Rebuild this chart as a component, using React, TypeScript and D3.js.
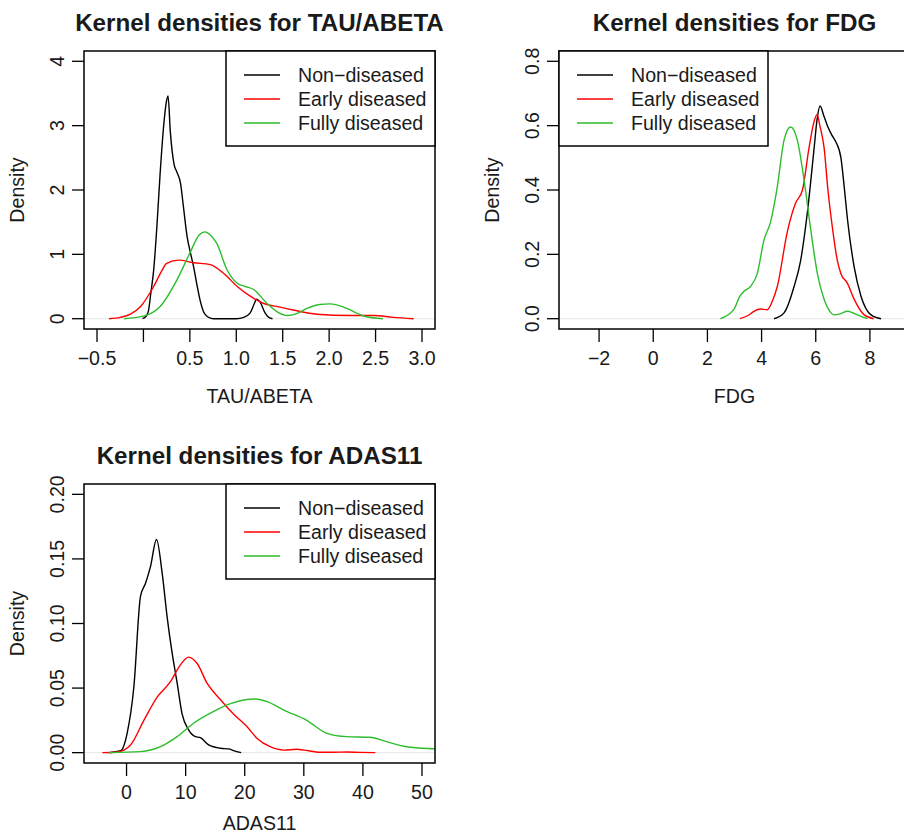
import React from 'react';
import * as d3 from 'd3';

type Pt = [number, number];

// series names and colours (R default palette: black, red, green3)
const seriesNames = ['Non\u2212diseased', 'Early diseased', 'Fully diseased'];
const seriesColors = ['#000000', '#ff0000', '#2dbd2d'];

// TAU/ABETA densities
const tauNon: Pt[] = [[-0.01, 0], [0.03, 0.04], [0.055, 0.13], [0.08, 0.4], [0.11, 0.75], [0.147, 1.48], [0.18, 2.26], [0.22, 3.03], [0.245, 3.35], [0.265, 3.46], [0.29, 2.9], [0.33, 2.4], [0.36, 2.28], [0.4, 2.1], [0.43, 1.75], [0.47, 1.28], [0.51, 1.0], [0.54, 0.81], [0.58, 0.5], [0.61, 0.29], [0.65, 0.1], [0.69, 0.03], [0.75, 0.0], [1.0, 0], [1.08, 0.02], [1.15, 0.09], [1.19, 0.22], [1.22, 0.305], [1.26, 0.25], [1.31, 0.09], [1.35, 0.02], [1.39, 0]];
const tauEarly: Pt[] = [[-0.37, 0], [-0.25, 0.02], [-0.14, 0.07], [-0.03, 0.19], [0.11, 0.5], [0.2, 0.75], [0.25, 0.86], [0.38, 0.91], [0.54, 0.87], [0.72, 0.84], [0.86, 0.71], [1.01, 0.5], [1.15, 0.35], [1.29, 0.24], [1.47, 0.18], [1.6, 0.14], [1.87, 0.07], [2.22, 0.05], [2.48, 0.05], [2.69, 0.02], [2.91, 0]];
const tauFully: Pt[] = [[-0.21, 0], [0.0, 0.04], [0.18, 0.19], [0.36, 0.6], [0.5, 1.02], [0.6, 1.3], [0.665, 1.35], [0.72, 1.3], [0.79, 1.17], [0.9, 0.76], [1.01, 0.55], [1.1, 0.5], [1.19, 0.45], [1.33, 0.24], [1.45, 0.1], [1.55, 0.05], [1.65, 0.08], [1.76, 0.16], [1.9, 0.22], [2.01, 0.23], [2.12, 0.2], [2.22, 0.14], [2.32, 0.07], [2.4, 0.03], [2.58, 0]];

// FDG densities
const fdgNon: Pt[] = [[4.46, 0], [4.83, 0.018], [5.2, 0.1], [5.44, 0.18], [5.69, 0.33], [5.94, 0.53], [6.05, 0.62], [6.16, 0.661], [6.3, 0.63], [6.43, 0.6], [6.6, 0.57], [6.74, 0.55], [6.93, 0.5], [7.05, 0.41], [7.17, 0.31], [7.42, 0.16], [7.67, 0.07], [8.04, 0.012], [8.41, 0]];
const fdgEarly: Pt[] = [[3.2, 0], [3.5, 0.01], [3.72, 0.023], [3.96, 0.03], [4.21, 0.028], [4.4, 0.055], [4.58, 0.1], [4.95, 0.27], [5.26, 0.36], [5.51, 0.4], [5.75, 0.53], [5.93, 0.61], [6.05, 0.635], [6.15, 0.6], [6.31, 0.53], [6.45, 0.4], [6.62, 0.28], [6.8, 0.18], [6.93, 0.14], [7.17, 0.11], [7.42, 0.06], [7.79, 0.012], [8.14, 0]];
const fdgFully: Pt[] = [[2.48, 0], [2.97, 0.028], [3.2, 0.07], [3.35, 0.085], [3.59, 0.1], [3.84, 0.14], [4.09, 0.245], [4.33, 0.3], [4.58, 0.41], [4.83, 0.555], [5.07, 0.596], [5.32, 0.555], [5.57, 0.43], [5.81, 0.28], [6.06, 0.14], [6.31, 0.06], [6.5, 0.025], [6.68, 0.012], [6.9, 0.015], [7.17, 0.023], [7.4, 0.017], [7.54, 0.012], [7.91, 0]];

// ADAS11 densities
const adasNon: Pt[] = [[-3, 0], [-1, 0.0015], [0.1, 0.015], [1.24, 0.051], [2.36, 0.121], [3.2, 0.131], [4.05, 0.144], [5.07, 0.165], [6.03, 0.139], [6.87, 0.105], [7.72, 0.077], [8.56, 0.054], [9.4, 0.03], [10.5, 0.0176], [11.66, 0.0124], [12.5, 0.0116], [13.9, 0.006], [15.9, 0.0034], [17.3, 0.0029], [18.1, 0.0016], [19.4, 0]];
const adasEarly: Pt[] = [[-4.1, 0], [-1.6, 0.0005], [0.68, 0.006], [2.93, 0.025], [5.18, 0.043], [7.43, 0.055], [9.12, 0.068], [10.5, 0.074], [11.95, 0.069], [13.6, 0.054], [15.9, 0.041], [18.1, 0.03], [20.4, 0.02], [22.1, 0.011], [24.3, 0.0046], [26.6, 0.002], [28.8, 0.0026], [30, 0.002], [32.8, 0.0003], [35, 0.0003], [37.3, 0.0005], [39.5, 0.0002], [42.1, 0]];
const adasFully: Pt[] = [[-3, 0], [2.36, 0.0008], [5.74, 0.0046], [8.56, 0.0124], [11.4, 0.023], [14.75, 0.032], [17.6, 0.038], [19.8, 0.0408], [21.8, 0.0416], [23.8, 0.0395], [26.6, 0.033], [30.5, 0.025], [33.9, 0.015], [37.3, 0.0124], [41.2, 0.0119], [44, 0.0085], [47.4, 0.0046], [51.9, 0.003], [55, 0.0025]];

// axis ticks and labels
const tauXTicks = [-0.5, 0, 0.5, 1.0, 1.5, 2.0, 2.5, 3.0];
const tauXLabels = ['\u22120.5', '', '0.5', '1.0', '1.5', '2.0', '2.5', '3.0'];
const tauYTicks = [0, 1, 2, 3, 4];
const tauYLabels = ['0', '1', '2', '3', '4'];
const fdgXTicks = [-2, 0, 2, 4, 6, 8];
const fdgXLabels = ['\u22122', '0', '2', '4', '6', '8'];
const fdgYTicks = [0, 0.2, 0.4, 0.6, 0.8];
const fdgYLabels = ['0.0', '0.2', '0.4', '0.6', '0.8'];
const adasXTicks = [0, 10, 20, 30, 40, 50];
const adasXLabels = ['0', '10', '20', '30', '40', '50'];
const adasYTicks = [0, 0.05, 0.1, 0.15, 0.2];
const adasYLabels = ['0.00', '0.05', '0.10', '0.15', '0.20'];

const FONT = '"Liberation Sans", Arial, Helvetica, sans-serif';
const TXT = '#1a1a1a';

interface PanelProps {
  id: string;
  title: string;
  xTitle: string;
  box: { left: number; right: number; top: number; bottom: number };
  xlim: [number, number];
  ylim: [number, number];
  series: Pt[][];
  xTicks: number[];
  xLabels: string[];
  yTicks: number[];
  yLabels: string[];
  legendSide: 'left' | 'right';
  xTitleOffset: number;
}

const Panel = (p: PanelProps) => {
  const { box } = p;
  // R style 4% range extension
  const ext = (l: [number, number]) => {
    const d = (l[1] - l[0]) * 0.04;
    return [l[0] - d, l[1] + d];
  };
  const x = d3.scaleLinear().domain(ext(p.xlim)).range([box.left, box.right]);
  const y = d3.scaleLinear().domain(ext(p.ylim)).range([box.bottom, box.top]);
  const line = d3
    .line<Pt>()
    .x((d) => x(d[0]))
    .y((d) => y(d[1]))
    .curve(d3.curveMonotoneX);

  const legW = 209;
  const legH = 95;
  const legX = p.legendSide === 'right' ? box.right - legW : box.left;
  const legY = box.top;
  const cx = (box.left + box.right) / 2;
  const cy = (box.top + box.bottom) / 2;

  return (
    <g>
      <defs>
        <clipPath id={`clip-${p.id}`}>
          <rect x={box.left} y={box.top} width={box.right - box.left} height={box.bottom - box.top} />
        </clipPath>
      </defs>
      <text x={cx} y={box.top - 20} textAnchor="middle" fontFamily={FONT} fontWeight="bold" fontSize={24.2} fill={TXT}>
        {p.title}
      </text>
      {/* zero line */}
      <line x1={box.left} x2={box.right} y1={y(0)} y2={y(0)} stroke="#e6e6e6" strokeWidth={1} />
      <g clipPath={`url(#clip-${p.id})`}>
        {p.series.map((s, i) => (
          <path key={i} d={line(s) || ''} fill="none" stroke={seriesColors[i]} strokeWidth={1.4} />
        ))}
      </g>
      <rect x={box.left} y={box.top} width={box.right - box.left} height={box.bottom - box.top} fill="none" stroke="#000" strokeWidth={1.5} />
      {/* x axis */}
      {p.xTicks.map((t, i) => (
        <g key={`x${i}`}>
          <line x1={x(t)} x2={x(t)} y1={box.bottom} y2={box.bottom + 13} stroke="#000" strokeWidth={1.3} />
          <text x={x(t)} y={box.bottom + 36} textAnchor="middle" fontFamily={FONT} fontSize={19.6} fill={TXT}>
            {p.xLabels[i]}
          </text>
        </g>
      ))}
      {/* y axis */}
      {p.yTicks.map((t, i) => (
        <g key={`y${i}`}>
          <line x1={box.left - 12} x2={box.left} y1={y(t)} y2={y(t)} stroke="#000" strokeWidth={1.3} />
          <text
            transform={`translate(${box.left - 20},${y(t)}) rotate(-90)`}
            textAnchor="middle"
            fontFamily={FONT}
            fontSize={19.6}
            fill={TXT}
          >
            {p.yLabels[i]}
          </text>
        </g>
      ))}
      <text x={cx} y={box.bottom + p.xTitleOffset + 7} textAnchor="middle" fontFamily={FONT} fontSize={19.6} fill={TXT}>
        {p.xTitle}
      </text>
      <text transform={`translate(${box.left - 60},${cy}) rotate(-90)`} textAnchor="middle" fontFamily={FONT} fontSize={19.6} fill={TXT}>
        Density
      </text>
      {/* legend */}
      <rect x={legX} y={legY} width={legW} height={legH} fill="#fff" stroke="#000" strokeWidth={1.5} />
      {seriesNames.map((n, i) => (
        <g key={n}>
          <line x1={legX + 18} x2={legX + 54} y1={legY + 24 + i * 24} y2={legY + 24 + i * 24} stroke={seriesColors[i]} strokeWidth={1.4} />
          <text x={legX + 72} y={legY + 31 + i * 24} fontFamily={FONT} fontSize={19.6} fill={TXT}>
            {n}
          </text>
        </g>
      ))}
    </g>
  );
};

export default function App() {
  return (
    <svg width={904} height={833} style={{ display: 'block', position: 'absolute', left: 0, top: 0, background: '#fff' }}>
      <rect x={0} y={0} width={904} height={833} fill="#fff" />
      <Panel
        id="tau"
        title="Kernel densities for TAU/ABETA"
        xTitle="TAU/ABETA"
        box={{ left: 84, right: 435, top: 51, bottom: 329 }}
        xlim={[-0.5, 3.0]}
        ylim={[0, 4]}
        series={[tauNon, tauEarly, tauFully]}
        xTicks={tauXTicks}
        xLabels={tauXLabels}
        yTicks={tauYTicks}
        yLabels={tauYLabels}
        legendSide="right"
        xTitleOffset={67}
      />
      <Panel
        id="fdg"
        title="Kernel densities for FDG"
        xTitle="FDG"
        box={{ left: 559, right: 910, top: 51, bottom: 329 }}
        xlim={[-3, 9]}
        ylim={[0, 0.8]}
        series={[fdgNon, fdgEarly, fdgFully]}
        xTicks={fdgXTicks}
        xLabels={fdgXLabels}
        yTicks={fdgYTicks}
        yLabels={fdgYLabels}
        legendSide="left"
        xTitleOffset={67}
      />
      <Panel
        id="adas"
        title="Kernel densities for ADAS11"
        xTitle="ADAS11"
        box={{ left: 84, right: 435, top: 484, bottom: 763 }}
        xlim={[-5, 50]}
        ylim={[0, 0.2]}
        series={[adasNon, adasEarly, adasFully]}
        xTicks={adasXTicks}
        xLabels={adasXLabels}
        yTicks={adasYTicks}
        yLabels={adasYLabels}
        legendSide="right"
        xTitleOffset={60}
      />
    </svg>
  );
}
